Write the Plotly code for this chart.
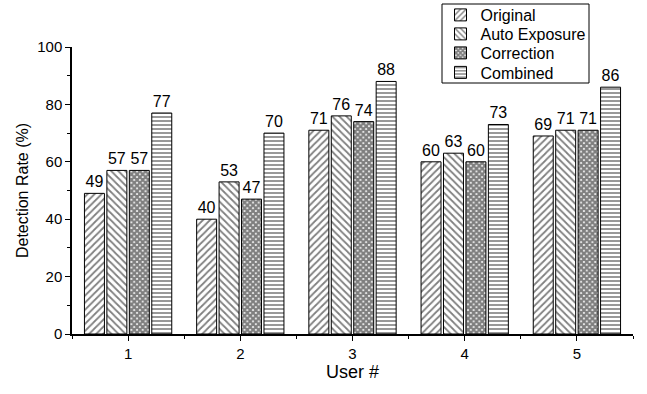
import plotly.graph_objects as go

users = [1, 2, 3, 4, 5]
series_names = ["Original", "Auto Exposure", "Correction", "Combined"]
original = [49, 40, 71, 60, 69]
auto_exposure = [57, 53, 76, 63, 71]
correction = [57, 47, 74, 60, 71]
combined = [77, 70, 88, 73, 86]
y_ticks = [0, 20, 40, 60, 80, 100]

series_values = [original, auto_exposure, correction, combined]
patterns = [
    dict(shape="/", size=5, solidity=0.35),
    dict(shape="\\", size=5, solidity=0.35),
    dict(shape="x", size=4, solidity=0.8),
    dict(shape="-", size=4, solidity=0.4),
]

FONT = "Liberation Sans, Arial, sans-serif"

# plot area in pixels (used to place the legend rows in paper units)
W, H = 647, 394
ML, MR, MT, MB = 72, 14, 47, 60
PW, PH = W - ML - MR, H - MT - MB


def px_x(p):
    return (p - ML) / PW


def px_y(p):
    return (H - MB - p) / PH


legend_ids = ["legend", "legend2", "legend3", "legend4"]
row_centers = [15, 34, 53, 72.5]

fig = go.Figure()
for name, vals, pat, lid in zip(series_names, series_values, patterns, legend_ids):
    fig.add_trace(go.Bar(
        x=users,
        y=vals,
        name=name,
        legend=lid,
        text=[str(v) for v in vals],
        textposition="outside",
        textfont=dict(family=FONT, size=16, color="black"),
        cliponaxis=False,
        marker=dict(
            color="white",
            line=dict(color="black", width=1),
            pattern=dict(fgcolor="black", bgcolor="white", **pat),
        ),
    ))

legend_layout = {}
for lid, yc in zip(legend_ids, row_centers):
    legend_layout[lid] = dict(
        x=px_x(440.5), y=px_y(yc), xanchor="left", yanchor="middle",
        bgcolor="rgba(0,0,0,0)", borderwidth=0,
        font=dict(family=FONT, size=16, color="black"),
        itemwidth=30,
    )

fig.update_layout(
    width=W,
    height=H,
    margin=dict(l=ML, r=MR, t=MT, b=MB, autoexpand=False),
    paper_bgcolor="white",
    plot_bgcolor="white",
    barmode="group",
    bargap=0.2,
    bargroupgap=0.11,
    font=dict(family=FONT, size=15, color="black"),
    showlegend=True,
    shapes=[dict(
        type="rect", xref="paper", yref="paper",
        x0=px_x(442), x1=px_x(589), y0=px_y(83), y1=px_y(4),
        line=dict(color="black", width=1), fillcolor="white", layer="above",
    )],
    xaxis=dict(
        range=[0.5, 5.5],
        tickmode="array",
        tickvals=users,
        ticktext=[str(u) for u in users],
        ticks="outside", ticklen=5, tickwidth=1, tickcolor="black",
        minor=dict(tickvals=[0.5, 1.5, 2.5, 3.5, 4.5, 5.5], ticks="outside",
                   ticklen=3, tickcolor="black"),
        showline=True, linecolor="black", linewidth=1.5,
        showgrid=False, zeroline=False,
        title=dict(text="User #", font=dict(family=FONT, size=18), standoff=4),
        tickfont=dict(family=FONT, size=15),
    ),
    yaxis=dict(
        range=[0, 100],
        tickmode="array",
        tickvals=y_ticks,
        ticktext=[str(t) for t in y_ticks],
        ticks="outside", ticklen=5, tickwidth=1, tickcolor="black",
        minor=dict(tickvals=[10, 30, 50, 70, 90], ticks="outside",
                   ticklen=3, tickcolor="black"),
        showline=True, linecolor="black", linewidth=1.5,
        showgrid=False, zeroline=False,
        title=dict(text="Detection Rate (%)", font=dict(family=FONT, size=16), standoff=5),
        tickfont=dict(family=FONT, size=15),
    ),
    **legend_layout,
)

fig.write_html("out.html")
